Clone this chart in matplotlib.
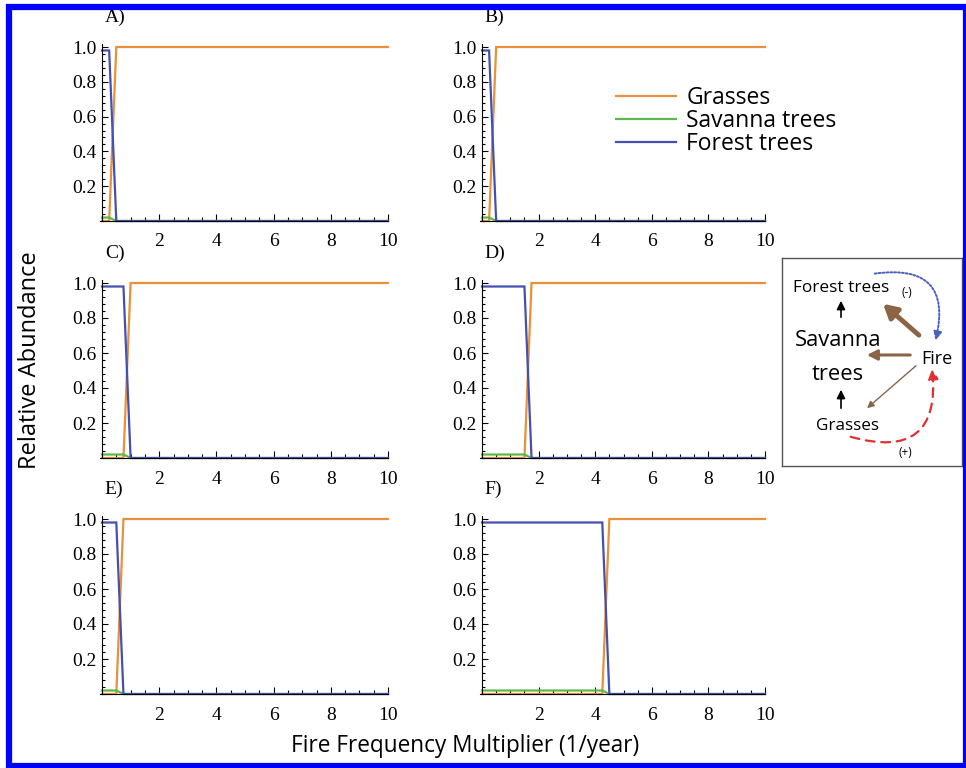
import matplotlib
matplotlib.use("Agg")
import matplotlib.pyplot as plt
from matplotlib.patches import Rectangle, FancyArrowPatch
from matplotlib.ticker import MultipleLocator, FixedLocator

# panel data (piecewise linear, breakpoints only)
panel_labels = ["A)", "B)", "C)", "D)", "E)", "F)"]
fire_multiplier = [
    [0, 0.25, 0.5, 10],
    [0, 0.25, 0.5, 10],
    [0, 0.75, 1.0, 10],
    [0, 1.5, 1.75, 10],
    [0, 0.5, 0.75, 10],
    [0, 4.25, 4.5, 10],
]
grasses = [[0, 0, 1.0, 1.0]] * 6
savanna_trees = [[0.02, 0.02, 0, 0]] * 6
forest_trees = [[0.98, 0.98, 0, 0]] * 6

series_names = ["Grasses", "Savanna trees", "Forest trees"]
series_colors = ["#e8913a", "#5cb84a", "#4450b0"]

x_ticks = [2, 4, 6, 8, 10]
y_ticks = [0.2, 0.4, 0.6, 0.8, 1.0]

W, H = 966, 768
XMIN, XMAX = -0.1, 10.15
YMIN, YMAX = -0.012, 1.03

SERIF = "Liberation Serif"
SANS = "Open Sans"

# pixel landmarks: (x at 0, x at 10) per column, (y at 0, y at 1) per row
columns = [(102, 388), (482, 765)]
rows = [(221, 47), (458, 283), (694, 519)]

fig = plt.figure(figsize=(W / 100, H / 100), dpi=100)


def add_panel(col, row):
    x0, x10 = col
    y0, y1 = row
    sx = (x10 - x0) / 10.0
    sy = float(y0 - y1)
    left = x0 + XMIN * sx
    right = x0 + XMAX * sx
    top = y0 - YMAX * sy
    bottom = y0 - YMIN * sy
    return fig.add_axes([left / W, 1 - bottom / H,
                         (right - left) / W, (bottom - top) / H])


axes = []
for i in range(6):
    ax = add_panel(columns[i % 2], rows[i // 2])
    axes.append(ax)
    x = fire_multiplier[i]
    for y, c, name in zip([grasses[i], savanna_trees[i], forest_trees[i]],
                          series_colors, series_names):
        ax.plot(x, y, color=c, lw=1.6, clip_on=False, label=name,
                solid_joinstyle="miter")

    ax.set_xlim(XMIN, XMAX)
    ax.set_ylim(YMIN, YMAX)
    for side in ["top", "right"]:
        ax.spines[side].set_visible(False)
    ax.spines["left"].set_position(("data", 0))
    ax.spines["bottom"].set_position(("data", 0))
    ax.spines["left"].set_bounds(0, 1.02)
    ax.spines["bottom"].set_bounds(-0.08, 10)
    ax.xaxis.set_major_locator(FixedLocator(x_ticks))
    ax.xaxis.set_minor_locator(MultipleLocator(0.5))
    ax.yaxis.set_major_locator(FixedLocator(y_ticks))
    ax.yaxis.set_minor_locator(MultipleLocator(0.04))
    ax.set_xticklabels([str(t) for t in x_ticks])
    ax.set_yticklabels(["%.1f" % t for t in y_ticks])
    ax.tick_params(which="both", direction="in", width=0.8)
    ax.tick_params(axis="x", which="major", length=5, pad=9)
    ax.tick_params(axis="x", which="minor", length=3)
    ax.tick_params(axis="y", which="major", length=4, pad=4)
    ax.tick_params(axis="y", which="minor", length=2.5)
    for lab in ax.get_xticklabels() + ax.get_yticklabels():
        lab.set_fontfamily(SERIF)
        lab.set_fontsize(14)
    ax.text(0.1, 1.17, panel_labels[i], fontfamily=SERIF, fontsize=14,
            ha="left", va="center", clip_on=False)

# legend in panel B
handles = axes[1].get_lines()
axes[1].legend(handles, series_names, loc="upper left",
               bbox_to_anchor=(605 / W, 1 - 75 / H),
               bbox_transform=fig.transFigure, frameon=False,
               prop={"family": SANS, "size": 16.5}, handlelength=2.6,
               handletextpad=0.45, labelspacing=-0.05, borderpad=0)

fig.text(30 / W, 1 - 360 / H, "Relative Abundance", rotation=90,
         fontfamily=SANS, fontsize=17, ha="center", va="center")
fig.text(465 / W, 1 - 746 / H, "Fire Frequency Multiplier (1/year)",
         fontfamily=SANS, fontsize=16.3, ha="center", va="center")

# inset diagram, drawn in pixel coordinates
ins = fig.add_axes([782 / W, 1 - 466 / H, 180 / W, 208 / H])
ins.set_xlim(782, 962)
ins.set_ylim(466, 258)
ins.set_xticks([])
ins.set_yticks([])
for sp in ins.spines.values():
    sp.set_color("#555555")
    sp.set_linewidth(1.0)

ins.text(841, 288, "Forest trees", fontfamily=SANS, fontsize=12.4,
         ha="center", va="center")
ins.text(907, 292, "(-)", fontfamily=SANS, fontsize=8.5, ha="center",
         va="center")
ins.text(838, 340, "Savanna", fontfamily=SANS, fontsize=15.8, ha="center",
         va="center")
ins.text(838, 374, "trees", fontfamily=SANS, fontsize=15.8, ha="center",
         va="center")
ins.text(848, 426, "Grasses", fontfamily=SANS, fontsize=12.3, ha="center",
         va="center")
ins.text(937, 359, "Fire", fontfamily=SANS, fontsize=13, ha="center",
         va="center")
ins.text(905, 452, "(+)", fontfamily=SANS, fontsize=8.5, ha="center",
         va="center")

brown = "#8b6445"
ins.annotate("", xy=(841, 298), xytext=(841, 320),
             arrowprops=dict(arrowstyle="-|>,head_width=0.25,head_length=0.5",
                             color="black", lw=1.2))
ins.annotate("", xy=(841, 387), xytext=(841, 411),
             arrowprops=dict(arrowstyle="-|>,head_width=0.25,head_length=0.5",
                             color="black", lw=1.2))
ins.annotate("", xy=(881, 302), xytext=(921, 337),
             arrowprops=dict(arrowstyle="-|>,head_width=0.45,head_length=0.8",
                             color=brown, lw=3.5))
ins.annotate("", xy=(864, 355), xytext=(913, 355),
             arrowprops=dict(arrowstyle="-|>,head_width=0.3,head_length=0.6",
                             color=brown, lw=2.2))
ins.annotate("", xy=(865, 410), xytext=(918, 364),
             arrowprops=dict(arrowstyle="-|>,head_width=0.2,head_length=0.4",
                             color=brown, lw=1.0))
ins.add_patch(FancyArrowPatch((872, 274), (935, 343),
                              connectionstyle="arc3,rad=-0.75",
                              arrowstyle="-|>,head_width=2.5,head_length=5",
                              color="#4a5fc0", lw=1.4, linestyle=(0, (1, 1)),
                              mutation_scale=1))
ins.add_patch(FancyArrowPatch((848, 436), (932, 366),
                              connectionstyle="arc3,rad=0.75",
                              arrowstyle="-|>,head_width=3,head_length=6",
                              color="#e03030", lw=1.6, linestyle=(0, (4, 3)),
                              mutation_scale=1))

# blue page frame
fig.patches.append(Rectangle((9 / W, 2 / H), 1 - 9 / W, 1 - 9 / H,
                             transform=fig.transFigure, fill=False,
                             edgecolor="#0000ff", lw=4.5))

fig.savefig("out.png", dpi=100)
